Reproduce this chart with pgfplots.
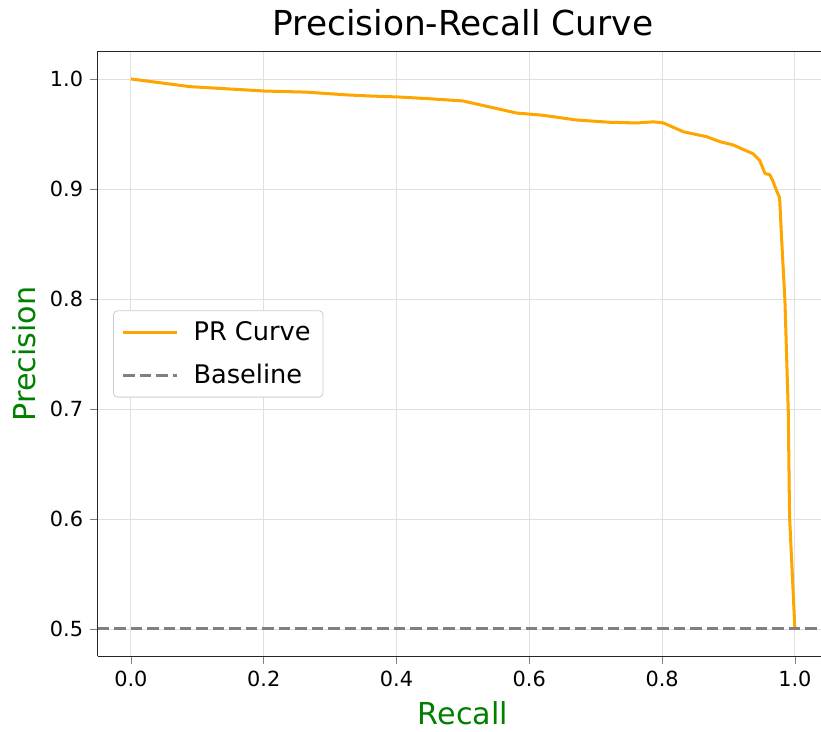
\documentclass[border=0pt]{standalone}
\usepackage{fontspec}
\setmainfont{DejaVu Sans}
\usepackage{pgfplots}
\pgfplotsset{compat=1.18}
\usetikzlibrary{calc}
\definecolor{mplorange}{RGB}{255,165,0}
\definecolor{mplgreen}{RGB}{0,128,0}
\definecolor{mplgray}{RGB}{128,128,128}

\begin{document}
\begin{tikzpicture}
\begin{axis}[
  scale only axis, width=350.6pt, height=290.4pt,
  xmin=-0.05, xmax=1.05, ymin=0.475, ymax=1.025,
  axis x line*=box, axis y line*=left,
  xtick={0,0.2,...,1.0}, ytick={0.5,0.6,...,1.0},
  xticklabel style={/pgf/number format/fixed,/pgf/number format/fixed zerofill,/pgf/number format/precision=1},
  yticklabel style={/pgf/number format/fixed,/pgf/number format/fixed zerofill,/pgf/number format/precision=1},
  /pgf/number format/assume math mode=true,
  tick label style={font=\fontsize{10}{12}\selectfont},
  tick align=outside, xtick pos=bottom, ytick pos=left, major tick length=3.5pt,
  grid=major, grid style={line width=0.4pt, black!12},
  axis line style={line width=0.6pt, black!85, -},
  title={Precision-Recall Curve},
  title style={font=\fontsize{16.5}{19}\selectfont, at={(axis description cs:0.5,1)}, anchor=base, yshift=1.5pt},
  xlabel={Recall}, ylabel={Precision},
  label style={font=\fontsize{14.5}{17}\selectfont, text=mplgreen},
  legend style={at={(axis description cs:0.021,0.5)}, anchor=west, draw=black!20, rounded corners=2pt,
    fill=white, font=\fontsize{12.3}{14}\selectfont, inner xsep=4pt, inner ysep=3pt, row sep=6pt, column sep=5pt},
  legend cell align=left,
  legend image code/.code={\draw[#1] (0pt,0pt) -- (26pt,0pt);},
]
\addplot[color=mplorange, line width=1.45pt, line join=round] coordinates {
(0,1.0) (0.089,0.993) (0.202,0.989) (0.265,0.988) (0.325,0.9855) (0.36,0.9845)
(0.403,0.9836) (0.45,0.982) (0.5,0.980) (0.581,0.969) (0.62,0.967) (0.671,0.9627)
(0.721,0.9606) (0.762,0.960) (0.787,0.961) (0.802,0.960) (0.832,0.952) (0.867,0.9475)
(0.887,0.943) (0.907,0.940) (0.922,0.936) (0.937,0.932) (0.947,0.926) (0.955,0.914)
(0.962,0.913) (0.967,0.907) (0.972,0.899) (0.977,0.892) (0.980,0.855) (0.985,0.799)
(0.990,0.699) (0.992,0.602) (1.0,0.5)
};
\addlegendentry{PR Curve}
\addplot[color=mplgray, line width=1.45pt, dash pattern=on 5.5pt off 2.4pt] coordinates {(-0.05,0.5) (1.05,0.5)};
\addlegendentry{Baseline}
\end{axis}
\pgfresetboundingbox
\useasboundingbox ($(current axis.south west)+(-46.9pt,-35.8pt)$) rectangle ($(current axis.north west)+(347.2pt,24.7pt)$);
\end{tikzpicture}
\end{document}
